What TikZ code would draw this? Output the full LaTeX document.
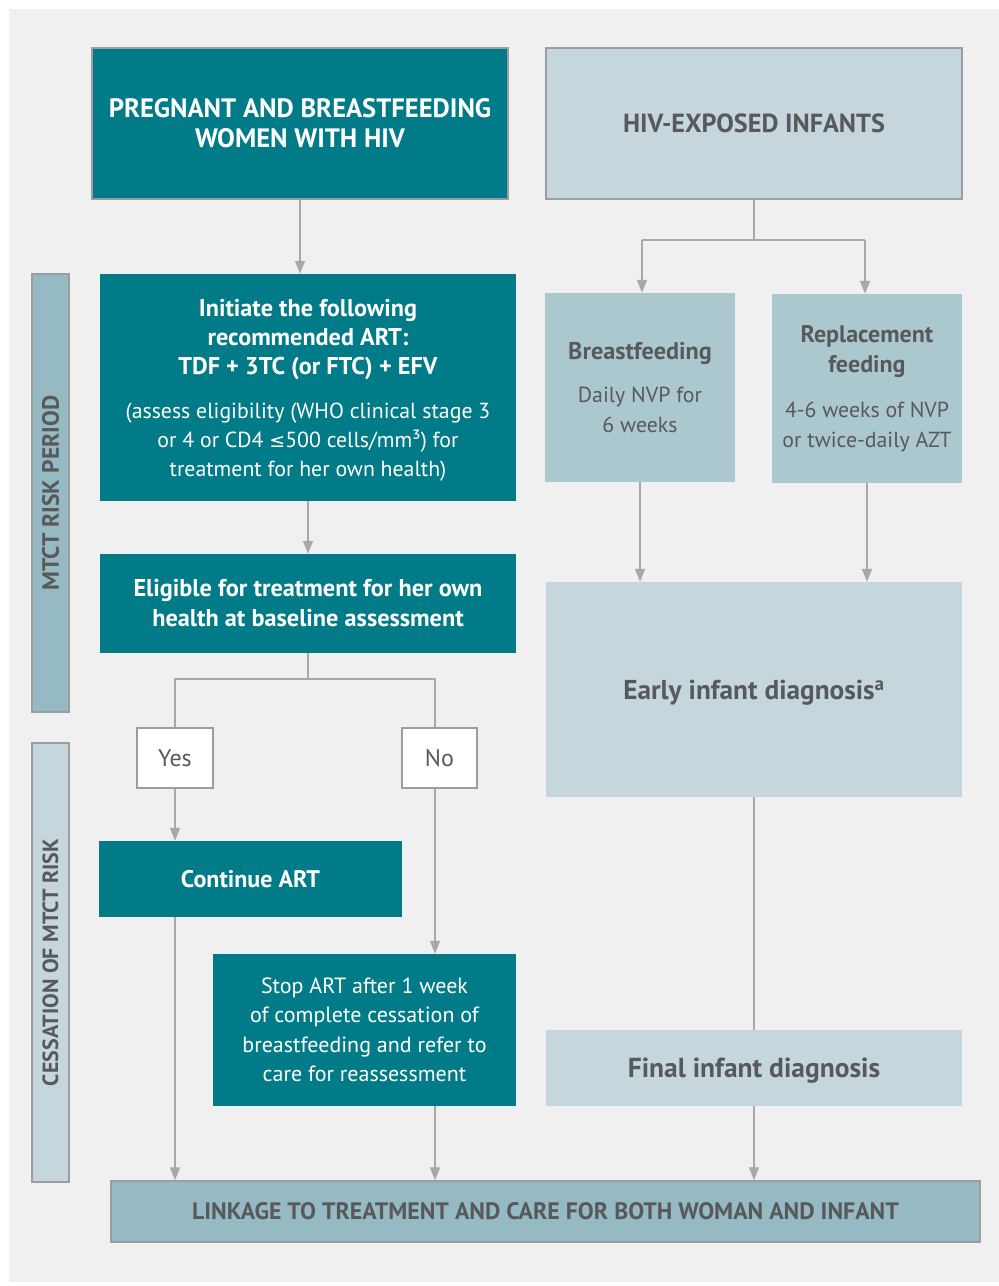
\documentclass[tikz,border=0pt]{standalone}
\usepackage{fontspec}
\setmainfont{PT Sans}
\newfontfamily\symfont{DejaVu Sans}
\usetikzlibrary{arrows.meta}
\definecolor{teal}{RGB}{0,123,135}
\definecolor{lightbox}{RGB}{197,214,221}
\definecolor{midbox}{RGB}{171,200,207}
\definecolor{darkbox}{RGB}{149,186,195}
\definecolor{bgc}{RGB}{240,240,240}
\definecolor{txt}{RGB}{88,89,91}
\definecolor{lnc}{RGB}{166,168,171}
\definecolor{bdr}{RGB}{155,157,160}
\tikzset{
  box/.style={rectangle, inner sep=0pt, align=center},
  tealbox/.style={box, fill=teal, text=white},
  tealframe/.style={tealbox, draw=bdr, line width=1.4pt},
  lightbox/.style={box, fill=lightbox, text=txt},
  midbox/.style={box, fill=midbox, text=txt},
  framed/.style={draw=bdr, line width=1.4pt},
  ynbox/.style={box, fill=white, draw=bdr, line width=1.2pt, text=txt, font=\fontsize{24}{28}\selectfont},
  conn/.style={draw=lnc, line width=1.3pt},
  arr/.style={conn, -{Triangle[width=10pt,length=13pt]}, lnc},
}
\newcommand{\rsz}{\fontsize{21.8}{29.5}\selectfont\mdseries}
\begin{document}
\begin{tikzpicture}[x=1pt,y=-1pt]
\useasboundingbox (0,0) rectangle (999,1286);
\fill[white] (0,0) rectangle (999,1286);
\fill[bgc] (9,9) rectangle (999,1282);

% left column
\node[tealframe, minimum width=416pt, minimum height=151pt, font=\fontsize{26.6}{30}\selectfont\bfseries] (A) at (300,123.5)
  {PREGNANT AND BREASTFEEDING\\WOMEN WITH HIV};
\node[tealbox, minimum width=416pt, minimum height=227pt] (C) at (308,387.5) {};
\node[box, text=white, font=\fontsize{24.2}{29}\selectfont] (Ct) at ([yshift=-3pt]C.center)
  {\textbf{Initiate the following}\\\textbf{recommended ART:}\\\textbf{TDF + 3TC (or FTC) + EFV}\\[15pt]
   {\rsz (assess eligibility (WHO clinical stage 3}\\{\rsz or 4 or CD4 {\symfont\fontsize{19}{24}\selectfont ≤}500 cells/mm³) for}\\{\rsz treatment for her own health)}};
\node[tealbox, minimum width=416pt, minimum height=99pt, font=\fontsize{24.3}{30}\selectfont\bfseries] (D) at (308,603.5)
  {Eligible for treatment for her own\\health at baseline assessment};
\node[ynbox, minimum width=76pt, minimum height=60pt] (Y) at (175,758) {Yes};
\node[ynbox, minimum width=75pt, minimum height=60pt] (N) at (439.5,758) {No};
\node[tealbox, minimum width=303pt, minimum height=76pt, text depth=0pt, font=\fontsize{24}{30}\selectfont\bfseries] (CO) at (250.5,879) {Continue ART};
\node[tealbox, minimum width=303pt, minimum height=152pt, font=\fontsize{22}{29.5}\selectfont] (S) at (364.5,1030)
  {Stop ART after 1 week\\of complete cessation of\\breastfeeding and refer to\\care for reassessment};

% right column
\node[lightbox, framed, minimum width=416pt, minimum height=151pt, font=\fontsize{26.2}{30}\selectfont\bfseries] (B) at (754,123.5)
  {HIV-EXPOSED INFANTS};
\node[midbox, minimum width=190pt, minimum height=189pt, font=\fontsize{24.2}{30}\selectfont] (BF) at (640,387.5)
  {\textbf{Breastfeeding}\\[13pt]{\rsz Daily NVP for}\\{\rsz 6 weeks}};
\node[midbox, minimum width=190pt, minimum height=189pt, font=\fontsize{24}{30}\selectfont] (RF) at (867,388.5)
  {\textbf{Replacement}\\\textbf{feeding}\\[15pt]{\rsz 4-6 weeks of NVP}\\{\rsz or twice-daily AZT}};
\node[lightbox, minimum width=416pt, minimum height=215pt, text depth=0pt, font=\fontsize{27.3}{30}\selectfont\bfseries] (E) at (754,689.5)
  {Early infant diagnosis\textsuperscript{a}};
\node[lightbox, minimum width=416pt, minimum height=76pt, text depth=0pt, font=\fontsize{27.5}{30}\selectfont\bfseries] (F) at (754,1068)
  {Final infant diagnosis};

% bottom
\node[box, fill=darkbox, framed, text=txt, minimum width=869pt, minimum height=61pt, font=\fontsize{23.8}{28}\selectfont\bfseries] (L) at (545.5,1211.5)
  {LINKAGE TO TREATMENT AND CARE FOR BOTH WOMAN AND INFANT};

% side bars
\node[box, fill=darkbox, framed, minimum width=37pt, minimum height=438pt] (P1) at (50.5,493) {};
\node[text=txt, rotate=90, font=\fontsize{23.6}{28}\selectfont\bfseries] (P1t) at (P1.center) {MTCT RISK PERIOD};
\node[box, fill=lightbox, framed, minimum width=37pt, minimum height=439pt] (P2) at (50.5,962.5) {};
\node[text=txt, rotate=90, font=\fontsize{22}{28}\selectfont\bfseries] (P2t) at (P2.center) {CESSATION OF MTCT RISK};

% connectors
\draw[arr] (A.south) -- (A.south |- C.north);
\draw[arr] (C.south) -- (D.north);
\coordinate (dj) at (308,679);
\coordinate (nx) at (435,679);
\draw[conn] (D.south) -- (dj) -| (Y.north);
\draw[conn] (dj) -- (nx) -- (nx |- N.north);
\draw[arr] (Y.south) -- (Y.south |- CO.north);
\draw[arr] (nx |- N.south) -- (nx |- S.north);
\draw[arr] (Y.south |- CO.south) -- (Y.south |- L.north);
\draw[arr] (nx |- S.south) -- (nx |- L.north);

\coordinate (bj) at (754,240);
\coordinate (bl) at (642,240);
\coordinate (br) at (865,240);
\draw[conn] (B.south) -- (bj);
\draw[conn] (bl) -- (br);
\draw[arr] (bl) -- (bl |- BF.north);
\draw[arr] (br) -- (br |- RF.north);
\draw[arr] (BF.south) -- (BF.south |- E.north);
\draw[arr] (RF.south) -- (RF.south |- E.north);
\draw[conn] (E.south) -- (F.north);
\draw[arr] (F.south) -- (F.south |- L.north);
\end{tikzpicture}
\end{document}
